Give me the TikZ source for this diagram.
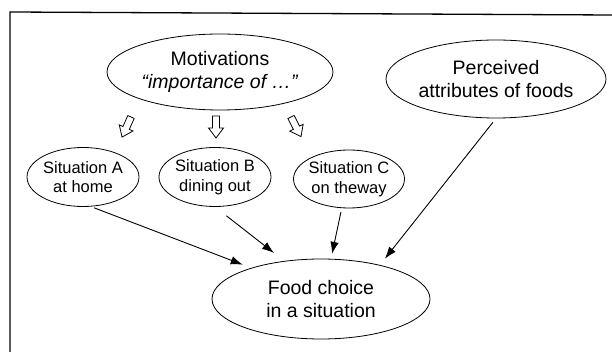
\documentclass[tikz,border=0pt]{standalone}
\usepackage{fontspec}
\setmainfont{Liberation Sans}
\usetikzlibrary{shapes.geometric,arrows.meta}
\begin{document}
\begin{tikzpicture}[x=1pt,y=-1pt,
  ell/.style={draw, ellipse, line width=0.8pt, inner xsep=-80pt, inner ysep=-40pt, align=center},
  bigtext/.style={font=\fontsize{19.5}{23}\selectfont},
  smalltext/.style={font=\fontsize{16.5}{19.5}\selectfont},
  conn/.style={-{Latex[length=12pt,width=8.5pt]}, line width=0.9pt},
  frame/.style={line width=1.3pt},
  hollow/.pic={\draw[line width=0.8pt, fill=white, line join=miter]
     (-3.5,0) -- (3.5,0) -- (3.5,12) -- (7.5,12) -- (0,22) -- (-7.5,12) -- (-3.5,12) -- cycle;}]
\useasboundingbox (0,0) rectangle (612,352);
\draw[frame] (10,352) -- (10,12) -- (612,15);

\node[ell, bigtext, minimum width=226pt, minimum height=76pt] (mot) at (220,72)
  {Motivations\\\textit{“importance of …”}};
\node[ell, bigtext, minimum width=220pt, minimum height=78pt] (per) at (496,79)
  {Perceived\\attributes of foods};
\node[ell, smalltext, minimum width=112pt, minimum height=59pt] (sa) at (83,177)
  {Situation A\\at home};
\node[ell, smalltext, minimum width=112pt, minimum height=59pt] (sb) at (215,177)
  {Situation B\\dining out};
\node[ell, smalltext, minimum width=111pt, minimum height=58pt] (sc) at (349,179)
  {Situation C\\on theway};
\node[ell, bigtext, minimum width=218pt, minimum height=80pt] (food) at (321,299)
  {Food choice\\in a situation};

\pic[rotate=-24] at (131,117) {hollow};
\pic at (216,116) {hollow};
\pic[rotate=27] at (291,117) {hollow};

\draw[conn, shorten <=3.5pt, shorten >=9pt] (sa.-75) -- (food.156);
\draw[conn, shorten <=14.5pt, shorten >=13pt] (sb.south) -- (food.134);
\draw[conn, shorten <=4pt, shorten >=5pt] (sc.-104) -- (food.76);
\draw[conn, shorten <=5pt, shorten >=8pt] (per.south) -- (food.30);
\end{tikzpicture}
\end{document}
